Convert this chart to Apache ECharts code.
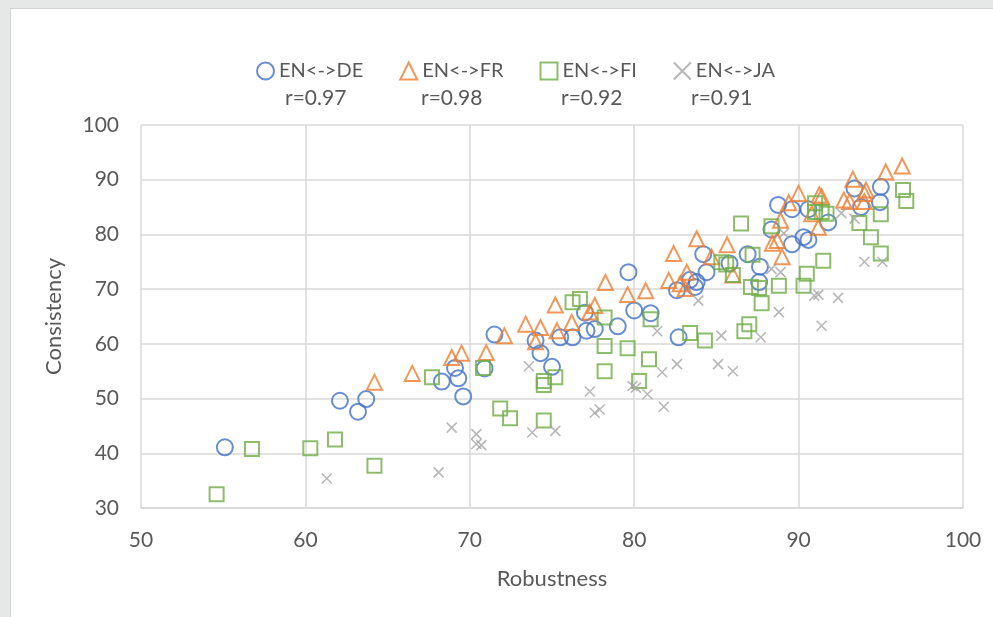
<!DOCTYPE html>
<html>
<head>
<meta charset="utf-8">
<script src="https://cdn.jsdelivr.net/npm/echarts@6/dist/echarts.min.js"></script>
<style>
  html, body { margin: 0; padding: 0; background: #e6e8e8; }
  #main { position: absolute; left: 10px; top: 8px; width: 983px; height: 609px;
          background: #fff; border-left: 1px solid #d0d2d2; border-top: 1px solid #d0d2d2; }
</style>
</head>
<body>
<div id="main"></div>
<script>
var seriesNames = ['EN<->DE', 'EN<->FR', 'EN<->FI', 'EN<->JA'];
var rLabels = ['r=0.97', 'r=0.98', 'r=0.92', 'r=0.91'];
var colors = ['#4472c4', '#ed7d31', '#70ad47', '#a5a5a5'];

var deData = [
    [55.1, 41.1], [62.1, 49.6], [63.7, 49.9], [63.2, 47.6], [68.3, 53.1], [69.1, 55.6], [69.3, 53.7],
    [69.6, 50.4], [70.9, 55.5], [71.5, 61.7], [74.0, 60.6], [74.3, 58.3], [75.0, 55.8], [75.5, 61.2],
    [76.25, 61.2], [77.0, 65.7], [77.1, 62.4], [77.6, 62.7], [79.0, 63.2], [79.65, 73.1], [80.0, 66.1],
    [81.0, 65.6], [82.7, 61.2], [82.6, 69.8], [83.4, 71.7], [83.8, 71.3], [83.7, 70.4], [84.2, 76.4],
    [84.4, 73.1], [85.8, 74.7], [86.9, 76.4], [87.65, 74.1], [87.6, 71.3], [88.35, 80.9], [88.75, 85.4],
    [89.6, 84.6], [89.6, 78.2], [90.3, 79.5], [90.6, 79.0], [90.6, 84.6], [91.8, 82.2], [93.4, 88.4],
    [93.8, 85.0], [95.0, 88.7], [94.95, 85.9]
];
var frData = [
    [64.2, 53.0], [66.5, 54.6], [68.9, 57.5], [69.5, 58.3], [71.0, 58.4], [72.1, 61.5], [73.4, 63.6],
    [74.3, 63.0], [74.0, 60.4], [75.2, 67.1], [75.3, 62.4], [76.2, 63.9], [77.3, 65.8], [77.6, 67.0],
    [78.25, 71.2], [79.6, 69.0], [80.7, 69.7], [82.1, 71.6], [82.4, 76.5], [82.8, 71.0], [83.1, 70.1],
    [83.2, 73.1], [83.8, 79.2], [84.7, 75.9], [85.65, 78.1], [86.0, 72.6], [88.4, 78.4], [88.7, 78.9],
    [88.9, 82.6], [89.0, 75.9], [89.4, 85.8], [90.0, 87.5], [90.8, 83.8], [91.2, 81.3], [91.25, 87.2],
    [91.4, 86.9], [92.75, 86.3], [93.1, 86.0], [93.3, 90.1], [94.0, 87.5], [94.1, 88.1], [94.0, 86.0],
    [95.3, 91.4], [96.3, 92.5]
];
var fiData = [
    [54.6, 32.5], [56.75, 40.8], [60.3, 40.9], [61.8, 42.5], [64.2, 37.7], [67.7, 53.9], [70.8, 55.6],
    [71.85, 48.2], [72.45, 46.4], [74.5, 53.2], [74.5, 52.5], [75.2, 53.9], [74.5, 46.0], [76.25, 67.6],
    [76.7, 68.2], [78.2, 64.8], [78.2, 59.6], [79.6, 59.2], [78.2, 55.0], [80.3, 53.2], [80.9, 57.2],
    [81.0, 64.5], [83.4, 62.0], [84.3, 60.6], [85.3, 74.9], [85.6, 74.5], [86.0, 72.6], [86.5, 82.0],
    [86.7, 62.3], [87.0, 63.6], [87.2, 76.3], [87.1, 70.4], [87.6, 70.2], [87.75, 67.4], [88.35, 81.5],
    [88.8, 70.6], [90.3, 70.6], [90.5, 72.8], [91.0, 85.7], [91.0, 84.1], [91.4, 84.1], [91.7, 83.8],
    [91.5, 75.2], [93.7, 82.1], [94.4, 79.5], [95.0, 83.7], [95.0, 76.5], [96.35, 88.1], [96.55, 86.1]
];
var jaData = [
    [61.3, 35.4], [68.1, 36.5], [68.9, 44.7], [70.4, 43.5], [70.4, 41.7], [70.7, 41.5], [73.6, 55.9],
    [73.8, 43.8], [75.2, 44.1], [77.3, 51.3], [77.6, 47.4], [77.9, 48.0], [79.9, 52.3], [80.1, 52.0],
    [80.8, 50.8], [81.7, 54.8], [81.8, 48.5], [81.4, 62.3], [82.6, 56.3], [83.9, 67.9], [85.1, 56.3],
    [85.3, 61.5], [86.0, 55.0], [87.7, 61.2], [88.35, 73.7], [88.9, 73.1], [88.8, 65.8], [89.1, 80.2],
    [90.95, 68.8], [91.2, 69.0], [91.4, 63.3], [92.4, 68.4], [92.6, 83.9], [93.4, 82.9], [94.0, 75.0],
    [95.1, 75.0]
];

var xTicks = [50, 60, 70, 80, 90, 100];
var yTicks = [30, 40, 50, 60, 70, 80, 90, 100];

var font = 'Lato, "Open Sans", sans-serif';
var textColor = '#595959';
var crossPath = 'path://M0,0L10,10M10,0L0,10';

function mkSeries(i, data, symbol, size) {
    return {
        name: seriesNames[i],
        type: 'scatter',
        data: data,
        symbol: symbol,
        symbolSize: size,
        itemStyle: {
            color: 'rgba(255,255,255,0)',
            borderColor: colors[i],
            borderWidth: i === 3 ? 1.6 : 2
        },
        emphasis: {disabled: true}
    };
}

~function () {
    var myChart = echarts.init(document.getElementById('main'));
    var option = {
        animation: false,
        backgroundColor: '#fff',
        textStyle: {fontFamily: font},
        legend: {
            data: seriesNames,
            top: 47,
            left: 240,
            itemGap: 36,
            itemWidth: 17,
            itemHeight: 17,
            textStyle: {fontSize: 20, color: textColor, fontFamily: font}
        },
        graphic: rLabels.map(function (t, i) {
            return {
                type: 'text',
                left: [274, 410, 550, 680][i],
                top: 79,
                style: {text: t, fontSize: 21, fill: textColor, fontFamily: font}
            };
        }),
        grid: {left: 130, right: 31, top: 116, bottom: 110},
        xAxis: {
            type: 'value',
            min: xTicks[0],
            max: xTicks[xTicks.length - 1],
            interval: 10,
            name: 'Robustness',
            nameLocation: 'middle',
            nameGap: 60,
            nameTextStyle: {fontSize: 22, color: textColor},
            axisLine: {show: true, lineStyle: {color: '#d9d9d9', width: 1.5}},
            axisTick: {show: false},
            axisLabel: {fontSize: 21, color: textColor, margin: 22},
            splitLine: {show: true, lineStyle: {color: '#d9d9d9', width: 1.5}}
        },
        yAxis: {
            type: 'value',
            min: yTicks[0],
            max: yTicks[yTicks.length - 1],
            interval: 10,
            name: 'Consistency',
            nameLocation: 'middle',
            nameGap: 76,
            nameTextStyle: {fontSize: 22, color: textColor},
            axisLine: {show: false},
            axisTick: {show: false},
            axisLabel: {fontSize: 21, color: textColor, margin: 22},
            splitLine: {show: true, lineStyle: {color: '#d9d9d9', width: 1.5}}
        },
        series: [
            mkSeries(0, deData, 'circle', 16),
            mkSeries(1, frData, 'triangle', 15),
            mkSeries(2, fiData, 'rect', 14),
            mkSeries(3, jaData, crossPath, 10)
        ]
    };
    myChart.setOption(option);
}();
</script>
</body>
</html>
